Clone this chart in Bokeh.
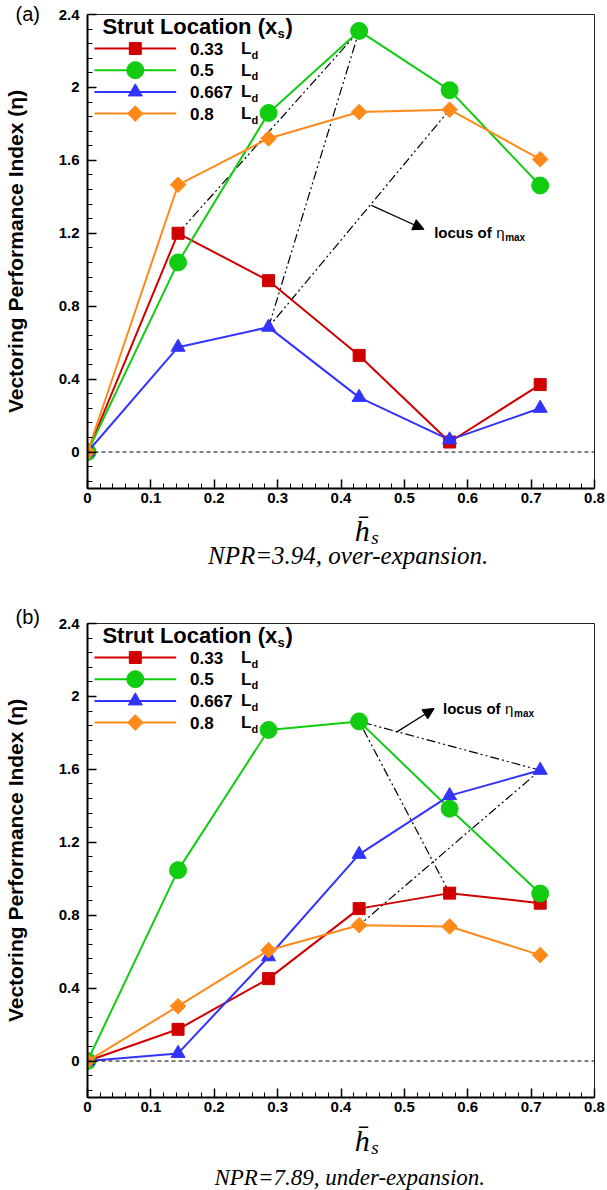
import numpy as np
from bokeh.plotting import figure
from bokeh.models import (Range1d, FixedTicker, CustomJSTickFormatter, Label, Span,
                          Arrow, NormalHead)
from bokeh.layouts import column
from bokeh.embed import file_html
from bokeh.resources import INLINE

# ---------------- data ----------------
h_s = [0.0, 0.1429, 0.2857, 0.4286, 0.5714, 0.7143]
strut_labels = ["0.33", "0.5", "0.667", "0.8"]

eta_a_033 = [0.0, 1.20, 0.94, 0.53, 0.055, 0.37]
eta_a_050 = [0.0, 1.04, 1.86, 2.31, 1.985, 1.462]
eta_a_0667 = [0.0, 0.575, 0.685, 0.30, 0.067, 0.24]
eta_a_080 = [0.0, 1.466, 1.72, 1.865, 1.878, 1.606]

eta_b_033 = [0.0, 0.174, 0.452, 0.836, 0.921, 0.866]
eta_b_050 = [0.0, 1.047, 1.816, 1.863, 1.384, 0.919]
eta_b_0667 = [0.0, 0.042, 0.572, 1.134, 1.456, 1.595]
eta_b_080 = [0.0, 0.301, 0.608, 0.745, 0.738, 0.581]

x_ticks = [0, 0.1, 0.2, 0.3, 0.4, 0.5, 0.6, 0.7, 0.8]
y_ticks = [0, 0.4, 0.8, 1.2, 1.6, 2, 2.4]

panel_tags = ["(a)", "(b)"]
captions = ["NPR=3.94, over-expansion.", "NPR=7.89, under-expansion."]

# ---------------- style ----------------
colors = ["#D00000", "#11CC11", "#3333FF", "#FF8A1A"]
markers = ["square", "circle", "triangle", "square"]
msizes = [12, 17, 14, 11]
mangles = [0, 0, 0, np.pi / 4]
FONT = "Liberation Sans"
SERIF = "Liberation Serif"
FW, FH = 509, 474
XMIN, XMAX, YMIN, YMAX = 0.0, 0.8, -0.2, 2.4


def dx(px):
    return XMIN + px / FW * (XMAX - XMIN)


def dy(py):
    return YMAX - py / FH * (YMAX - YMIN)


def txt(p, x, y, text, size, style="bold", font=FONT, xo=0, yo=0,
        align="left", baseline="middle"):
    p.add_layout(Label(x=x, y=y, text=text, text_font=font,
                       text_font_size=f"{size}px", text_font_style=style,
                       text_color="black", x_offset=xo, y_offset=yo,
                       text_align=align, text_baseline=baseline))


def make_panel(series, tag, top, tag_standoff, locus_anchor, arrow_pts):
    bottom = 25
    p = figure(width=607, height=top + FH + bottom, output_backend="svg",
               toolbar_location=None,
               x_range=Range1d(XMIN, XMAX), y_range=Range1d(YMIN, YMAX),
               min_border_left=85, min_border_right=13,
               min_border_top=top, min_border_bottom=bottom)
    p.grid.visible = False
    p.outline_line_color = "#222222"
    p.outline_line_width = 1
    p.background_fill_color = "white"
    p.border_fill_color = "white"

    # panel tag as a left-aligned title
    p.title.text = tag
    p.title.align = "left"
    p.title.offset = -72
    p.title.standoff = tag_standoff
    p.title.vertical_align = "bottom"
    p.title.text_font = FONT
    p.title.text_font_style = "normal"
    p.title.text_font_size = "20px"
    p.title.text_color = "black"

    minor_x = [round(v, 2) for v in np.arange(0, 0.81, 0.02)]
    minor_y = [round(v, 2) for v in np.arange(-0.16, 2.41, 0.08)]
    p.xaxis.ticker = FixedTicker(ticks=x_ticks, minor_ticks=minor_x)
    p.yaxis.ticker = FixedTicker(ticks=y_ticks, minor_ticks=minor_y)
    fmt = "return String(Math.round(tick*10)/10)"
    p.xaxis.formatter = CustomJSTickFormatter(code=fmt)
    p.yaxis.formatter = CustomJSTickFormatter(code=fmt)
    for ax in (p.xaxis[0], p.yaxis[0]):
        ax.axis_line_width = 2
        ax.axis_line_color = "black"
        ax.major_tick_in = 9
        ax.major_tick_out = 0
        ax.minor_tick_in = 5
        ax.minor_tick_out = 0
        ax.major_tick_line_width = 1.5
        ax.minor_tick_line_width = 1
        ax.major_tick_line_color = "black"
        ax.minor_tick_line_color = "black"
        ax.major_label_text_font = FONT
        ax.major_label_text_font_style = "bold"
        ax.major_label_text_font_size = "15px"
        ax.major_label_text_color = "black"
    p.xaxis.major_label_standoff = 4
    p.yaxis.major_label_standoff = 8
    p.yaxis.axis_label = "Vectoring Performance Index (\u03b7)"
    p.yaxis.axis_label_text_font = FONT
    p.yaxis.axis_label_text_font_style = "bold"
    p.yaxis.axis_label_text_font_size = "21px"
    p.yaxis.axis_label_text_color = "black"
    p.yaxis.axis_label_standoff = 29

    p.add_layout(Span(location=0, dimension="width", line_color="black",
                      line_width=1, line_dash="4 3"))

    # locus of eta max
    lx = [h_s[int(np.argmax(s))] for s in series]
    ly = [max(s) for s in series]
    p.line(lx, ly, line_color="black", line_width=1.2, line_dash="9 3 2 3 2 3")

    for s, c, m, ms, ma in zip(series, colors, markers, msizes, mangles):
        p.line(h_s, s, line_color=c, line_width=2)
        p.scatter(h_s, s, marker=m, size=ms, angle=ma, fill_color=c, line_color=c)

    # legend (manual)
    txt(p, dx(15), dy(12), "Strut Location (x", 22)
    txt(p, dx(15), dy(12), "s", 13, xo=175, yo=-7)
    txt(p, dx(15), dy(12), ")", 22, xo=183)
    for i, (lab, c, m, ms, ma) in enumerate(zip(strut_labels, colors, markers, msizes, mangles)):
        yy = dy(34 + i * 21.7)
        p.line([dx(7), dx(89)], [yy, yy], line_color=c, line_width=2)
        p.scatter([dx(48)], [yy], marker=m, size=ms, angle=ma, fill_color=c, line_color=c)
        txt(p, dx(103), yy, lab, 17)
        txt(p, dx(154), yy, "L", 17)
        txt(p, dx(154), yy, "d", 11, xo=10.5, yo=-6)

    # locus annotation
    ax0, ay0, ax1, ay1 = arrow_pts
    p.add_layout(Arrow(end=NormalHead(size=11, fill_color="black", line_color="black"),
                       x_start=ax0, y_start=ay0, x_end=ax1, y_end=ay1,
                       line_color="black", line_width=1.3))
    tx, ty = locus_anchor
    txt(p, tx, ty, "locus of ", 15)
    txt(p, tx, ty, "\u03b7", 15, style="normal", xo=62)
    txt(p, tx, ty, "max", 10, xo=71, yo=-5)
    return p


def make_caption(caption, height, hbar_y, cap_y, cap_size, cap_x):
    q = figure(width=607, height=height, output_backend="svg", toolbar_location=None,
               x_range=Range1d(0, 607), y_range=Range1d(height, 0),
               x_axis_type=None, y_axis_type=None,
               min_border_left=0, min_border_right=0, min_border_top=0, min_border_bottom=0)
    q.grid.visible = False
    q.outline_line_color = None
    q.background_fill_color = "white"
    q.border_fill_color = "white"
    txt(q, 329, hbar_y, "h\u0304", 30, style="italic", font=SERIF, align="center")
    txt(q, 329, hbar_y, "s", 19, style="italic", font=SERIF, xo=9, yo=-7)
    txt(q, cap_x, cap_y, caption, cap_size, style="italic", font=SERIF, align="center")
    return q


series_a = [eta_a_033, eta_a_050, eta_a_0667, eta_a_080]
series_b = [eta_b_033, eta_b_050, eta_b_0667, eta_b_080]

pa = make_panel(series_a, panel_tags[0], top=14, tag_standoff=-20,
                locus_anchor=(0.547, 1.205), arrow_pts=(0.448, 1.353, 0.531, 1.222))
ca = make_caption(captions[0], height=595 - (14 + FH + 25), hbar_y=17, cap_y=42,
                  cap_size=25, cap_x=312)
pb = make_panel(series_b, panel_tags[1], top=28, tag_standoff=-8,
                locus_anchor=(0.561, 1.934), arrow_pts=(0.487, 1.803, 0.547, 1.934))
cb = make_caption(captions[1], height=595 - (28 + FH + 25), hbar_y=18, cap_y=55,
                  cap_size=23, cap_x=314)

layout = column(pa, ca, pb, cb, spacing=0)
open("out.html", "w").write(file_html(layout, INLINE))
